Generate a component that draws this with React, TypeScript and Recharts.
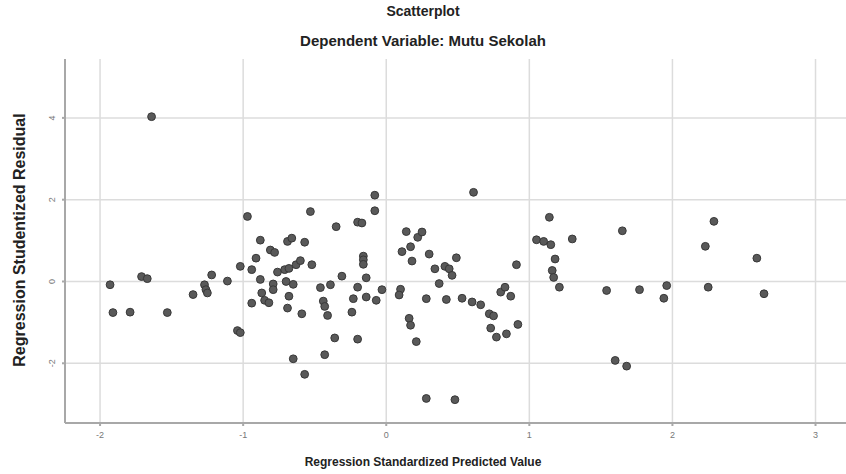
import React from "react";
import {
    ScatterChart,
    Scatter,
    XAxis,
    YAxis,
    ReferenceLine,
} from "recharts";

// predicted value (x) / studentized residual (y)
const predicted = [
    -1.64, -0.97, -0.53, -0.35, -0.88, -0.69, -0.66, -0.57, -0.81, -0.78,
    -0.91, -1.02, -0.94, -0.76, -0.71, -0.68, -0.63, -0.6, -0.52, -0.31,
    -0.88, -0.79, -0.79, -0.7, -0.65, -0.46, -0.39, -0.87, -0.68, -0.94,
    -0.85, -0.82, -0.69, -0.59, -0.44, -0.43, -0.41, -0.24, -0.36, -0.43,
    -0.65, -0.57, -1.04, -1.02, -1.22, -1.27, -1.26, -1.25, -1.35, -1.11,
    -1.71, -1.67, -1.93, -1.91, -1.79, -1.53, -0.08, -0.08, 0.61, -0.2,
    -0.17, 0.14, 0.22, 0.25, 0.17, 0.11, 0.18, 0.3, 0.49, 0.34,
    0.41, 0.44, 0.46, 0.37, -0.16, -0.16, -0.16, -0.14, -0.2, -0.03,
    0.1, 0.09, -0.23, -0.14, -0.07, 0.28, 0.42, 0.53, 0.6, 0.66,
    0.72, 0.75, 0.73, 0.77, 0.84, 0.92, 0.8, 0.83, 0.87, 0.91,
    0.16, 0.17, 0.21, -0.2, 0.28, 0.48, 1.05, 1.1, 1.15, 1.14,
    1.3, 1.18, 1.16, 1.17, 1.21, 1.65, 2.29, 2.23, 2.59, 1.54,
    1.77, 1.96, 1.94, 2.25, 2.64, 1.6, 1.68,
];
const residual = [
    4.03, 1.59, 1.71, 1.34, 1.01, 0.98, 1.06, 0.96, 0.77, 0.71,
    0.57, 0.37, 0.29, 0.23, 0.29, 0.32, 0.41, 0.51, 0.41, 0.13,
    0.05, -0.06, -0.2, 0.0, -0.07, -0.15, -0.08, -0.28, -0.36, -0.53,
    -0.46, -0.52, -0.65, -0.79, -0.48, -0.61, -0.83, -0.75, -1.38, -1.79,
    -1.89, -2.27, -1.2, -1.25, 0.16, -0.08, -0.2, -0.28, -0.32, 0.01,
    0.12, 0.07, -0.08, -0.76, -0.75, -0.76, 2.11, 1.73, 2.18, 1.45,
    1.43, 1.22, 1.08, 1.21, 0.85, 0.73, 0.5, 0.67, 0.58, 0.31,
    0.37, 0.31, 0.15, -0.05, 0.62, 0.53, 0.42, 0.09, -0.14, -0.2,
    -0.19, -0.33, -0.42, -0.38, -0.46, -0.42, -0.44, -0.41, -0.5, -0.57,
    -0.79, -0.84, -1.14, -1.36, -1.28, -1.05, -0.26, -0.14, -0.36, 0.41,
    -0.9, -1.07, -1.47, -1.41, -2.86, -2.89, 1.02, 0.98, 0.9, 1.57,
    1.04, 0.55, 0.27, 0.1, -0.14, 1.24, 1.47, 0.86, 0.57, -0.22,
    -0.2, -0.1, -0.41, -0.14, -0.3, -1.93, -2.07,
];
const xTicks = [-2, -1, 0, 1, 2, 3];
const yTicks = [-2, 0, 2, 4];

const points = predicted.map((x, i) => ({ x, y: residual[i] }));

const font = "'Liberation Sans', Arial, sans-serif";

function YTick({ x, y, payload }: any) {
    const bx = x - 5;
    return (
        <text
            x={bx}
            y={y}
            transform={`rotate(-90 ${bx} ${y})`}
            textAnchor="middle"
            fontSize={9}
            fontFamily={font}
            fill="#777"
        >
            {payload.value}
        </text>
    );
}

export default function App() {
    return (
        <div style={{ position: "absolute", left: 0, top: 0, width: 846, height: 474, background: "#fff", fontFamily: font }}>
            <div style={{ position: "absolute", top: 3, width: 846, textAlign: "center", fontSize: 14, fontWeight: "bold", color: "#222" }}>
                Scatterplot
            </div>
            <div style={{ position: "absolute", top: 32, width: 846, textAlign: "center", fontSize: 15, fontWeight: "bold", color: "#222" }}>
                Dependent Variable: Mutu Sekolah
            </div>

            <ScatterChart width={846} height={474} margin={{ top: 59, right: 0, left: 0, bottom: 0 }}>
                {xTicks.map((t) => (
                    <ReferenceLine key={"vx" + t} x={t} stroke="#dcdcdc" strokeWidth={1.5} />
                ))}
                {yTicks.map((t) => (
                    <ReferenceLine key={"hy" + t} y={t} stroke="#dcdcdc" strokeWidth={1.5} />
                ))}
                <XAxis
                    type="number"
                    dataKey="x"
                    domain={[-2.245, 3.213]}
                    ticks={xTicks}
                    allowDataOverflow
                    height={51}
                    stroke="#a8a8a8"
                    strokeWidth={2}
                    tickSize={3}
                    tickMargin={6}
                    tick={{ fontSize: 9, fill: "#777", fontFamily: font }}
                />
                <YAxis
                    type="number"
                    dataKey="y"
                    domain={[-3.46, 5.44]}
                    ticks={yTicks}
                    allowDataOverflow
                    width={65}
                    stroke="#a8a8a8"
                    strokeWidth={2}
                    tickSize={3}
                    tick={<YTick />}
                />
                <Scatter
                    data={points}
                    fill="#595959"
                    isAnimationActive={false}
                    shape={(p: any) => <circle cx={p.cx} cy={p.cy} r={3.9} fill="#595959" stroke="#383838" strokeWidth={1} />}
                />
            </ScatterChart>

            <div style={{ position: "absolute", top: 455, width: 846, textAlign: "center", fontSize: 12, fontWeight: "bold", color: "#222" }}>
                Regression Standardized Predicted Value
            </div>
            <div
                style={{
                    position: "absolute",
                    left: 20,
                    top: 240,
                    transform: "translate(-50%, -50%) rotate(-90deg)",
                    whiteSpace: "nowrap",
                    fontSize: 16,
                    fontWeight: "bold",
                    color: "#222",
                }}
            >
                Regression Studentized Residual
            </div>
        </div>
    );
}
